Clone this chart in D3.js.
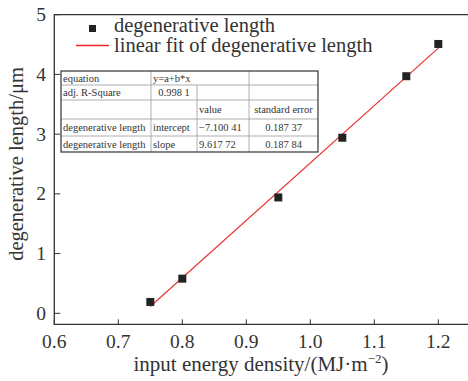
<!DOCTYPE html>
<html>
<head>
<meta charset="utf-8">
<script src="https://cdn.jsdelivr.net/npm/d3@7"></script>
<style>
  body { margin: 0; background: #fff; }
  svg { display: block; }
</style>
</head>
<body>
<div id="chart"></div>
<script>
const energy = [0.75, 0.8, 0.95, 1.05, 1.15, 1.2];
const lengthUm = [0.19, 0.58, 1.94, 2.94, 3.97, 4.51];
const fitA = -7.10041;
const fitB = 9.61772;
const xTicks = [0.6, 0.7, 0.8, 0.9, 1.0, 1.1, 1.2];
const yTicks = [0, 1, 2, 3, 4, 5];
const tableRows = [
  ['equation', 'y=a+b*x', '', ''],
  ['adj. R-Square', '0.998 1', '', ''],
  ['', '', 'value', 'standard error'],
  ['degenerative length', 'intercept', '\u22127.100 41', '0.187 37'],
  ['degenerative length', 'slope', '9.617 72', '0.187 84']
];

const width = 468, height = 381;
const plotLeft = 54.3, plotRight = 468, plotTop = 14.7, plotBottom = 324.3;

const svg = d3.select('#chart').append('svg')
  .attr('width', width)
  .attr('height', height);

const x = d3.scaleLinear().domain([0.6, 1.2]).range([plotLeft, 438.3]);
const y = d3.scaleLinear().domain([0, 5]).range([313.3, plotTop]);

// frame: left, top, bottom (right side runs off the page)
svg.append('path')
  .attr('d', `M${plotRight},${plotTop}H${plotLeft}V${plotBottom}H${plotRight}`)
  .attr('fill', 'none')
  .attr('stroke', '#333')
  .attr('stroke-width', 1.3);

// ticks
svg.append('g').selectAll('line').data(xTicks).enter().append('line')
  .attr('x1', d => x(d)).attr('x2', d => x(d))
  .attr('y1', plotBottom).attr('y2', plotBottom - 5)
  .attr('stroke', '#333');
svg.append('g').selectAll('text').data(xTicks).enter().append('text')
  .attr('x', d => x(d)).attr('y', 348)
  .attr('text-anchor', 'middle')
  .attr('font-size', 19.5)
  .attr('fill', '#333')
  .text(d => d.toFixed(1));

svg.append('g').selectAll('line').data(yTicks).enter().append('line')
  .attr('x1', plotLeft).attr('x2', plotLeft + 6)
  .attr('y1', d => y(d)).attr('y2', d => y(d))
  .attr('stroke', '#333');
svg.append('g').selectAll('text').data(yTicks).enter().append('text')
  .attr('x', 46).attr('y', d => y(d) + 6.5)
  .attr('text-anchor', 'end')
  .attr('font-size', 19.5)
  .attr('fill', '#333')
  .text(d => d);

// axis titles
const xt = svg.append('text')
  .attr('x', 261).attr('y', 371)
  .attr('text-anchor', 'middle')
  .attr('font-size', 21)
  .attr('fill', '#333');
xt.append('tspan').text('input energy density/(MJ\u00b7m');
xt.append('tspan').attr('dy', -8).attr('font-size', 13).text('\u22122');
xt.append('tspan').attr('dy', 8).text(')');

svg.append('text')
  .attr('transform', 'translate(23,164) rotate(-90)')
  .attr('text-anchor', 'middle')
  .attr('font-size', 20.5)
  .attr('fill', '#333')
  .text('degenerative length/\u03bcm');

// fit line
svg.append('line')
  .attr('x1', x(0.75)).attr('y1', y(fitA + fitB * 0.75))
  .attr('x2', x(1.2)).attr('y2', y(fitA + fitB * 1.2))
  .attr('stroke', '#e8322e')
  .attr('stroke-width', 1.2);

// points
svg.append('g').selectAll('rect').data(energy).enter().append('rect')
  .attr('x', d => x(d) - 4)
  .attr('y', (d, i) => y(lengthUm[i]) - 4)
  .attr('width', 8).attr('height', 8)
  .attr('fill', '#222');

// legend
svg.append('rect').attr('x', 89).attr('y', 25).attr('width', 7).attr('height', 7).attr('fill', '#222');
svg.append('text').attr('x', 114).attr('y', 32).attr('font-size', 20.5).attr('fill', '#333')
  .text('degenerative length');
svg.append('line').attr('x1', 76).attr('x2', 109).attr('y1', 45.5).attr('y2', 45.5)
  .attr('stroke', '#ee2222').attr('stroke-width', 1.4);
svg.append('text').attr('x', 114).attr('y', 52).attr('font-size', 20.5).attr('fill', '#333')
  .text('linear fit of degenerative length');

// fit table
const colX = [61, 151, 197, 249, 318];
const rowY = [71, 85, 100, 119, 136, 152];
const tbl = svg.append('g');
tbl.append('rect')
  .attr('x', colX[0]).attr('y', rowY[0])
  .attr('width', colX[4] - colX[0]).attr('height', rowY[5] - rowY[0])
  .attr('fill', '#fff');
// inner horizontal lines
rowY.slice(1, -1).forEach(ry => {
  tbl.append('line').attr('x1', colX[0]).attr('x2', colX[4])
    .attr('y1', ry).attr('y2', ry).attr('stroke', '#999').attr('stroke-width', 0.8);
});
// inner vertical lines
[1, 2, 3].forEach(ci => {
  tbl.append('line').attr('x1', colX[ci]).attr('x2', colX[ci])
    .attr('y1', ci === 2 ? rowY[1] : rowY[0]).attr('y2', rowY[5])
    .attr('stroke', '#999').attr('stroke-width', 0.8);
});
tbl.append('rect')
  .attr('x', colX[0]).attr('y', rowY[0])
  .attr('width', colX[4] - colX[0]).attr('height', rowY[5] - rowY[0])
  .attr('fill', 'none').attr('stroke', '#333').attr('stroke-width', 1.2);

tableRows.forEach((row, ri) => {
  const cy = (rowY[ri] + rowY[ri + 1]) / 2 + 3.5;
  row.forEach((cell, ci) => {
    if (!cell) return;
    const centered = (ri === 1 && ci === 1) || ci === 3;
    tbl.append('text')
      .attr('x', centered ? (colX[ci] + colX[ci + 1]) / 2 : colX[ci] + 2)
      .attr('y', cy)
      .attr('text-anchor', centered ? 'middle' : 'start')
      .attr('font-size', 10.5)
      .attr('fill', '#333')
      .text(cell);
  });
});

// serif face on every text element
svg.selectAll('text').style('font-family', '"Liberation Serif"');
</script>
</body>
</html>
